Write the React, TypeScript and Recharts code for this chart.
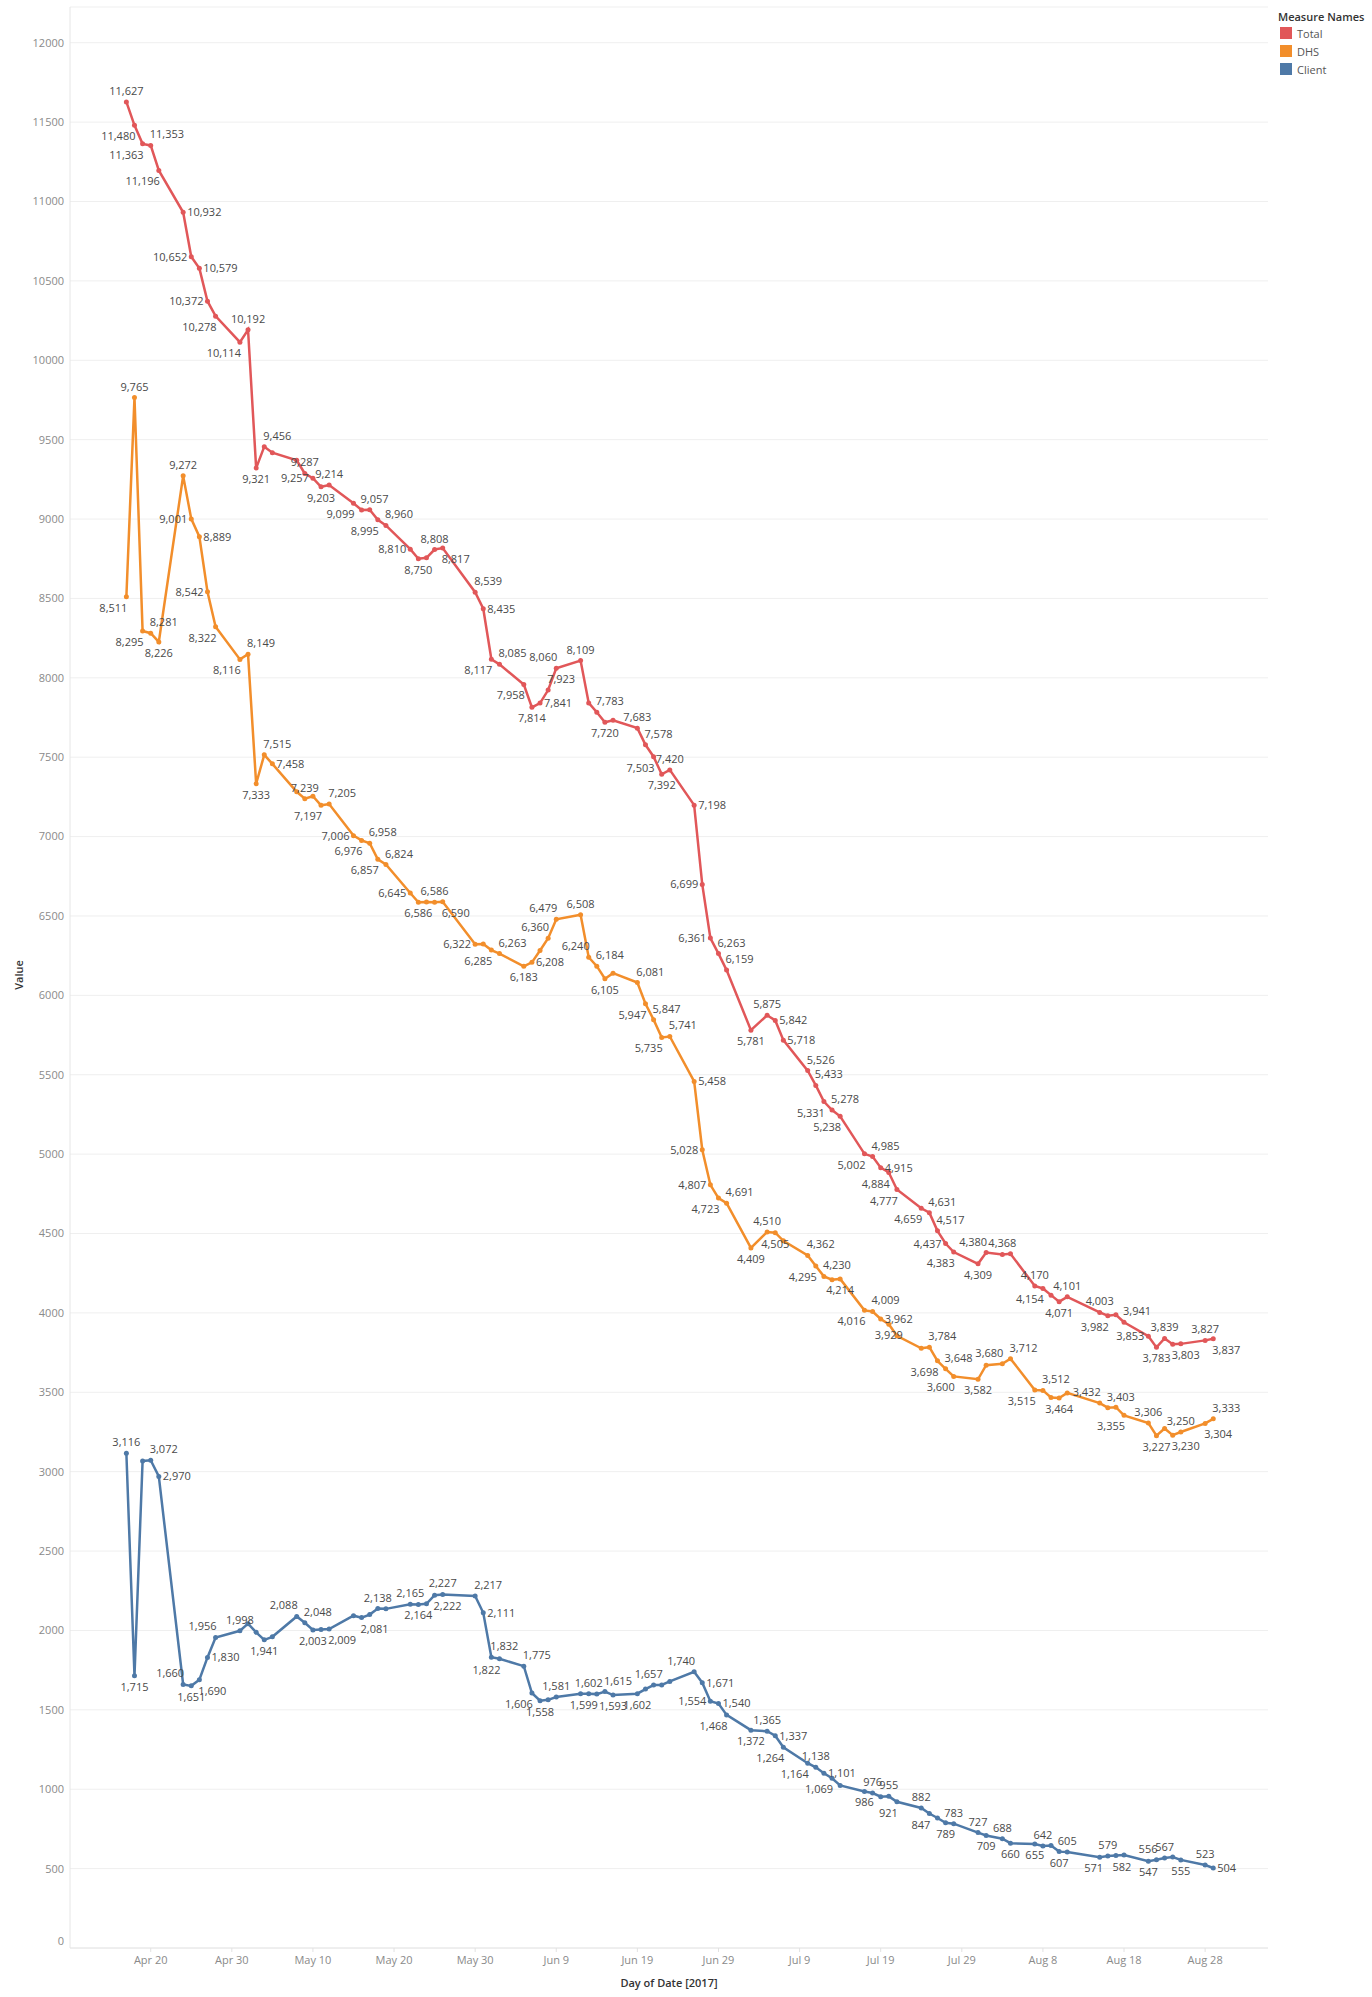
import React from "react";
import { LineChart, Line, XAxis, YAxis, CartesianGrid, LabelList } from "recharts";

// business days with data (May 29, Jul 4, Aug 2, Aug 14 have no point)
const DATES = [
  "2017-04-17", "2017-04-18", "2017-04-19", "2017-04-20", "2017-04-21",
  "2017-04-24", "2017-04-25", "2017-04-26", "2017-04-27", "2017-04-28",
  "2017-05-01", "2017-05-02", "2017-05-03", "2017-05-04", "2017-05-05",
  "2017-05-08", "2017-05-09", "2017-05-10", "2017-05-11", "2017-05-12",
  "2017-05-15", "2017-05-16", "2017-05-17", "2017-05-18", "2017-05-19",
  "2017-05-22", "2017-05-23", "2017-05-24", "2017-05-25", "2017-05-26",
  "2017-05-30", "2017-05-31", "2017-06-01", "2017-06-02",
  "2017-06-05", "2017-06-06", "2017-06-07", "2017-06-08", "2017-06-09",
  "2017-06-12", "2017-06-13", "2017-06-14", "2017-06-15", "2017-06-16",
  "2017-06-19", "2017-06-20", "2017-06-21", "2017-06-22", "2017-06-23",
  "2017-06-26", "2017-06-27", "2017-06-28", "2017-06-29", "2017-06-30",
  "2017-07-03", "2017-07-05", "2017-07-06", "2017-07-07",
  "2017-07-10", "2017-07-11", "2017-07-12", "2017-07-13", "2017-07-14",
  "2017-07-17", "2017-07-18", "2017-07-19", "2017-07-20", "2017-07-21",
  "2017-07-24", "2017-07-25", "2017-07-26", "2017-07-27", "2017-07-28",
  "2017-07-31", "2017-08-01", "2017-08-03", "2017-08-04",
  "2017-08-07", "2017-08-08", "2017-08-09", "2017-08-10", "2017-08-11",
  "2017-08-15", "2017-08-16", "2017-08-17", "2017-08-18",
  "2017-08-21", "2017-08-22", "2017-08-23", "2017-08-24", "2017-08-25",
  "2017-08-28", "2017-08-29",
];

const TOTAL = [
  11627, 11480, 11363, 11353, 11196,
  10932, 10652, 10579, 10372, 10278,
  10114, 10192, 9321, 9456, 9418,
  9370, 9287, 9257, 9203, 9214,
  9099, 9057, 9058, 8995, 8960,
  8810, 8750, 8756, 8808, 8817,
  8539, 8435, 8117, 8085,
  7958, 7814, 7841, 7923, 8060,
  8109, 7842, 7783, 7720, 7733,
  7683, 7578, 7503, 7392, 7420,
  7198, 6699, 6361, 6263, 6159,
  5781, 5875, 5842, 5718,
  5526, 5433, 5331, 5278, 5238,
  5002, 4985, 4915, 4884, 4777,
  4659, 4631, 4517, 4437, 4383,
  4309, 4380, 4368, 4372,
  4170, 4154, 4112, 4071, 4101,
  4003, 3982, 3988, 3941,
  3853, 3783, 3839, 3803, 3805,
  3827, 3837,
];

const DHS = [
  8511, 9765, 8295, 8281, 8226,
  9272, 9001, 8889, 8542, 8322,
  8116, 8149, 7333, 7515, 7458,
  7282, 7239, 7254, 7197, 7205,
  7006, 6976, 6958, 6857, 6824,
  6645, 6586, 6588, 6586, 6590,
  6322, 6324, 6285, 6263,
  6183, 6208, 6283, 6360, 6479,
  6508, 6240, 6184, 6105, 6140,
  6081, 5947, 5847, 5735, 5741,
  5458, 5028, 4807, 4723, 4691,
  4409, 4510, 4505, 4454,
  4362, 4295, 4230, 4209, 4214,
  4016, 4009, 3962, 3929, 3856,
  3777, 3784, 3698, 3648, 3600,
  3582, 3671, 3680, 3712,
  3515, 3512, 3467, 3464, 3496,
  3432, 3403, 3406, 3355,
  3306, 3227, 3272, 3230, 3250,
  3304, 3333,
];

const CLIENT = [
  3116, 1715, 3068, 3072, 2970,
  1660, 1651, 1690, 1830, 1956,
  1998, 2043, 1988, 1941, 1960,
  2088, 2048, 2003, 2006, 2009,
  2093, 2081, 2100, 2138, 2136,
  2165, 2164, 2168, 2222, 2227,
  2217, 2111, 1832, 1822,
  1775, 1606, 1558, 1563, 1581,
  1601, 1602, 1599, 1615, 1593,
  1602, 1631, 1656, 1657, 1679,
  1740, 1671, 1554, 1540, 1468,
  1372, 1365, 1337, 1264,
  1164, 1138, 1101, 1069, 1024,
  986, 976, 953, 955, 921,
  882, 847, 819, 789, 783,
  727, 709, 688, 660,
  655, 642, 645, 607, 605,
  571, 579, 582, 586,
  547, 556, 567, 573, 555,
  523, 504,
];

const Y_TICKS = [0, 500, 1000, 1500, 2000, 2500, 3000, 3500, 4000, 4500, 5000, 5500, 6000,
  6500, 7000, 7500, 8000, 8500, 9000, 9500, 10000, 10500, 11000, 11500, 12000];
const X_TICK_LABELS = ["Apr 20", "Apr 30", "May 10", "May 20", "May 30", "Jun 9", "Jun 19",
  "Jun 29", "Jul 9", "Jul 19", "Jul 29", "Aug 8", "Aug 18", "Aug 28"];

// label placement per point (t/b/l/r/tl/tr/bl/br, "-" = hidden like Tableau's overlap rule)
const TOTAL_POS = (
  "t bl bl tr bl r l r l bl bl t b tr - - t l b t bl tr - bl tr l b - t br " +
  "tr r bl tr bl b r tr tl t - tr b - t tr bl b t r l l tr tr b t r r " +
  "tr tr bl tr bl bl tr r bl bl bl tr tr l bl b tl t - t bl - b t t bl - tr " +
  "l b t br - t br"
).split(" ");
const DHS_POS = (
  "bl t bl tr b t l r l bl bl tr b tr r - t - bl tr l bl tr bl tr l b - t br " +
  "l - bl tr b r - tl tl t tl tr b - tr bl tr bl tr r l l bl tr b t b - " +
  "tr bl tr - b bl tr r b - - tr bl tr bl b - tl tr bl tr - b - tl tr - bl " +
  "t b - br t br tr"
).split(" ");
const CLIENT_POS = (
  "t b - tr r tl b br r tl " +
  "t - - b - tl tr b - br " +
  "- br - t - t b - br t " +
  "tr r tr bl tr bl b - t - " +
  "t bl tr b b - - tl - tl " +
  "r l r bl b t r bl bl t " +
  "r bl - b t - t bl t bl " +
  "- b t t b t b b t - " +
  "b t b< t b> - b tl t - " +
  "b t r"
).split(" ");

const BASE = Date.UTC(2017, 3, 20);
const dayOf = (iso: string) => {
  const [y, m, d] = iso.split("-").map(Number);
  return (Date.UTC(y, m - 1, d) - BASE) / 86400000;
};
const X_TICKS = X_TICK_LABELS.map((_, i) => i * 10);

const data = DATES.map((d, i) => ({
  x: dayOf(d),
  total: TOTAL[i],
  dhs: DHS[i],
  client: CLIENT[i],
}));

const FONT = "'Open Sans', 'DejaVu Sans', sans-serif";
const RED = "#e15759";
const ORANGE = "#f28e2b";
const BLUE = "#4e79a7";

const makeLabel = (pos: string[]) => (props: any) => {
  const { x, y, value, index } = props;
  const p = pos[index];
  if (!p || p === "-" || x == null || y == null) return null;
  let tx = x;
  let ty = y;
  let anchor: "start" | "middle" | "end" = "middle";
  if (p === "t") ty = y - 7;
  else if (p === "b") ty = y + 15;
  else if (p === "b<") { tx = x - 6; ty = y + 15; }
  else if (p === "b>") { tx = x + 6; ty = y + 15; }
  else if (p === "l") { tx = x - 4; ty = y + 4; anchor = "end"; }
  else if (p === "r") { tx = x + 4; ty = y + 4; anchor = "start"; }
  else if (p === "tl") { tx = x + 1; ty = y - 7; anchor = "end"; }
  else if (p === "tr") { tx = x - 1; ty = y - 7; anchor = "start"; }
  else if (p === "bl") { tx = x + 1; ty = y + 15; anchor = "end"; }
  else if (p === "br") { tx = x - 1; ty = y + 15; anchor = "start"; }
  return (
    <text x={tx} y={ty} textAnchor={anchor} fontSize={11} fill="#4a4a4a" fontFamily={FONT}>
      {Number(value).toLocaleString("en-US")}
    </text>
  );
};

// Tableau nudges the bottom axis label up so it stays inside the pane
const YTick = (props: any) => {
  const { x, y, payload } = props;
  const shift = payload.value === 0 ? -7 : 0;
  return (
    <text x={x} y={y + shift} dy="0.355em" textAnchor="end" fontSize={11} fill="#8a8a8a" fontFamily={FONT}>
      {payload.value}
    </text>
  );
};

const legendItems = [
  { name: "Total", color: RED },
  { name: "DHS", color: ORANGE },
  { name: "Client", color: BLUE },
];

export default function App() {
  return (
    <div style={{ position: "relative", width: 1372, height: 1997, background: "#fff", fontFamily: FONT }}>
      <style>{"body{margin:0;background:#fff}"}</style>
      <LineChart
        width={1372}
        height={1997}
        data={data}
        margin={{ top: 7, right: 104, bottom: 0, left: 0 }}
      >
        <CartesianGrid vertical={false} stroke="#efefef" />
        <XAxis
          dataKey="x"
          type="number"
          domain={[-9.95, 137.75]}
          allowDataOverflow
          ticks={X_TICKS}
          tickFormatter={(v: number) => X_TICK_LABELS[Math.round(v / 10)] ?? ""}
          height={49}
          tickSize={4}
          tickMargin={4}
          tick={{ fill: "#8a8a8a", fontSize: 11, fontFamily: FONT }}
          tickLine={{ stroke: "#e2e2e2" }}
          axisLine={{ stroke: "#e6e6e6" }}
        />
        <YAxis
          type="number"
          domain={[0, 12225]}
          allowDataOverflow
          ticks={Y_TICKS}
          width={70}
          tickSize={0}
          tickMargin={6}
          tick={<YTick />}
          tickLine={false}
          axisLine={{ stroke: "#e6e6e6" }}
        />
        <Line
          dataKey="client"
          stroke={BLUE}
          strokeWidth={2.5}
          dot={{ r: 2.5, fill: BLUE, stroke: BLUE, strokeWidth: 0 }}
          activeDot={false}
          isAnimationActive={false}
        >
          <LabelList dataKey="client" content={makeLabel(CLIENT_POS)} />
        </Line>
        <Line
          dataKey="dhs"
          stroke={ORANGE}
          strokeWidth={2.5}
          dot={{ r: 2.5, fill: ORANGE, stroke: ORANGE, strokeWidth: 0 }}
          activeDot={false}
          isAnimationActive={false}
        >
          <LabelList dataKey="dhs" content={makeLabel(DHS_POS)} />
        </Line>
        <Line
          dataKey="total"
          stroke={RED}
          strokeWidth={2.5}
          dot={{ r: 2.5, fill: RED, stroke: RED, strokeWidth: 0 }}
          activeDot={false}
          isAnimationActive={false}
        >
          <LabelList dataKey="total" content={makeLabel(TOTAL_POS)} />
        </Line>
      </LineChart>

      <div
        style={{
          position: "absolute", left: 18, top: 975, transform: "translate(-50%, -50%) rotate(-90deg)",
          fontSize: 11, fontWeight: 600, color: "#333", whiteSpace: "nowrap",
        }}
      >
        Value
      </div>
      <div
        style={{
          position: "absolute", left: 669, top: 1982, transform: "translate(-50%, -50%)",
          fontSize: 11, fontWeight: 600, color: "#333", whiteSpace: "nowrap",
        }}
      >
        Day of Date [2017]
      </div>

      <div style={{ position: "absolute", left: 1278, top: 9 }}>
        <div style={{ fontSize: 11, fontWeight: 600, color: "#333", lineHeight: "15px" }}>Measure Names</div>
        {legendItems.map((it) => (
          <div key={it.name} style={{ display: "flex", alignItems: "center", height: 18, marginLeft: 2 }}>
            <span style={{ width: 12, height: 12, background: it.color, display: "inline-block", marginRight: 5 }} />
            <span style={{ fontSize: 11, color: "#555" }}>{it.name}</span>
          </div>
        ))}
      </div>
    </div>
  );
}
